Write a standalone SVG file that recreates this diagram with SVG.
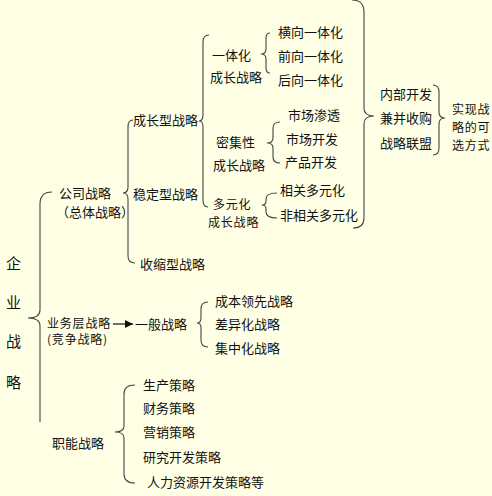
<svg xmlns="http://www.w3.org/2000/svg" width="492" height="496" viewBox="0 0 492 496">
<style>
text{font-family:"Noto Sans CJK SC","Liberation Sans",sans-serif;font-size:13px;fill:#111}
.big{font-size:15px}
.t{font-size:12px;letter-spacing:0.8px}
.br{fill:none;stroke:#444;stroke-width:1.1}
</style>
<defs>
<marker id="ah" viewBox="0 0 10 10" refX="10" refY="5" markerWidth="8" markerHeight="8" markerUnits="userSpaceOnUse" orient="auto"><path d="M0,0 L10,5 L0,10 Z" fill="#111"/></marker>
</defs>
<rect width="492" height="496" fill="#FFFFE5"/>
<g id="connectors">
<path class="br" d="M52,192 Q40,192 40,204 L40,310 Q40,318 28,318 Q40,318 40,326 L40,422"/>
<path class="br" d="M133,120 Q128,120 128,127 L128,187 Q128,193 123,193 Q128,193 128,199 L128,256 Q128,263 135,263"/>
<path class="br" d="M209,35 Q203,35 203,42 L203,115 Q203,121 199,121 Q203,121 203,127 L203,200 Q203,207 208,207"/>
<path class="br" d="M270,33 Q266,33 266,38 L266,49 Q266,54 261,54 Q266,54 266,59 L266,68 Q266,73 270,73"/>
<path class="br" d="M280,122 Q273,122 273,128 L273,138 Q273,143 267,143 Q273,143 273,148 L273,157 Q273,163 280,163"/>
<path class="br" d="M277,193 Q266,193 266,199 L266,201 Q266,205 262,205 Q266,205 266,209 L266,212 Q266,218 277,218"/>
<path class="br" d="M208,302 Q201,302 201,309 L201,318 Q201,323 197,323 Q201,323 201,328 L201,340 Q201,347 208,347"/>
<path class="br" d="M135,385 Q124,385 124,394 L124,426 Q124,432 115,432 Q124,432 124,438 L124,474 Q124,483 135,483"/>
<path class="br" d="M352,0 Q364,0 364,12 L364,108 Q364,116 374,116 Q364,116 364,124 L364,218 Q364,228 353,228"/>
<path class="br" d="M433,85 Q439,85 439,92 L439,112 Q439,118 445,118 Q439,118 439,124 L439,148 Q439,155 433,155"/>
<line x1="113" y1="324" x2="133" y2="324" stroke="#111" stroke-width="1.2" marker-end="url(#ah)"/>
</g>
<g id="root"><text class="big" x="6" y="269">企</text><text class="big" x="6" y="308">业</text><text class="big" x="6" y="347">战</text><text class="big" x="6" y="388">略</text></g>
<g id="corporate"><text x="59" y="198">公司战略</text><text x="56" y="217">（总体战略）</text></g>
<g id="business"><text class="t" x="47" y="328">业务层战略</text><text class="t" x="47" y="344">(竞争战略)</text></g>
<g id="functional"><text x="52" y="448">职能战略</text></g>
<g id="growth"><text x="133" y="125">成长型战略</text></g>
<g id="stable"><text x="133" y="199">稳定型战略</text></g>
<g id="retrench"><text x="140" y="269">收缩型战略</text></g>
<g id="integration"><text x="212" y="60">一体化</text><text x="210" y="82">成长战略</text></g>
<g id="intensive"><text x="216" y="147">密集性</text><text x="213" y="170">成长战略</text></g>
<g id="diversify"><text class="t" x="213" y="209">多元化</text><text class="t" x="208" y="227">成长战略</text></g>
<g id="horizontal"><text x="278" y="37">横向一体化</text></g>
<g id="forward"><text x="278" y="61">前向一体化</text></g>
<g id="backward"><text x="278" y="85">后向一体化</text></g>
<g id="penetration"><text x="288" y="120">市场渗透</text></g>
<g id="market-dev"><text x="286" y="144">市场开发</text></g>
<g id="product-dev"><text x="285" y="167">产品开发</text></g>
<g id="related"><text x="280" y="195">相关多元化</text></g>
<g id="unrelated"><text x="280" y="220">非相关多元化</text></g>
<g id="internal"><text x="380" y="99">内部开发</text></g>
<g id="ma"><text x="380" y="123">兼并收购</text></g>
<g id="alliance"><text x="380" y="148">战略联盟</text></g>
<g id="ways"><text class="t" x="452" y="114">实现战</text><text class="t" x="452" y="132">略的可</text><text class="t" x="452" y="150">选方式</text></g>
<g id="generic"><text x="135" y="329">一般战略</text></g>
<g id="cost"><text x="215" y="306">成本领先战略</text></g>
<g id="differ"><text x="215" y="329">差异化战略</text></g>
<g id="focus"><text x="215" y="353">集中化战略</text></g>
<g id="production"><text x="143" y="390">生产策略</text></g>
<g id="finance"><text x="143" y="413">财务策略</text></g>
<g id="marketing"><text x="143" y="437">营销策略</text></g>
<g id="rnd"><text x="143" y="462">研究开发策略</text></g>
<g id="hr"><text x="147" y="487">人力资源开发策略等</text></g>
</svg>
